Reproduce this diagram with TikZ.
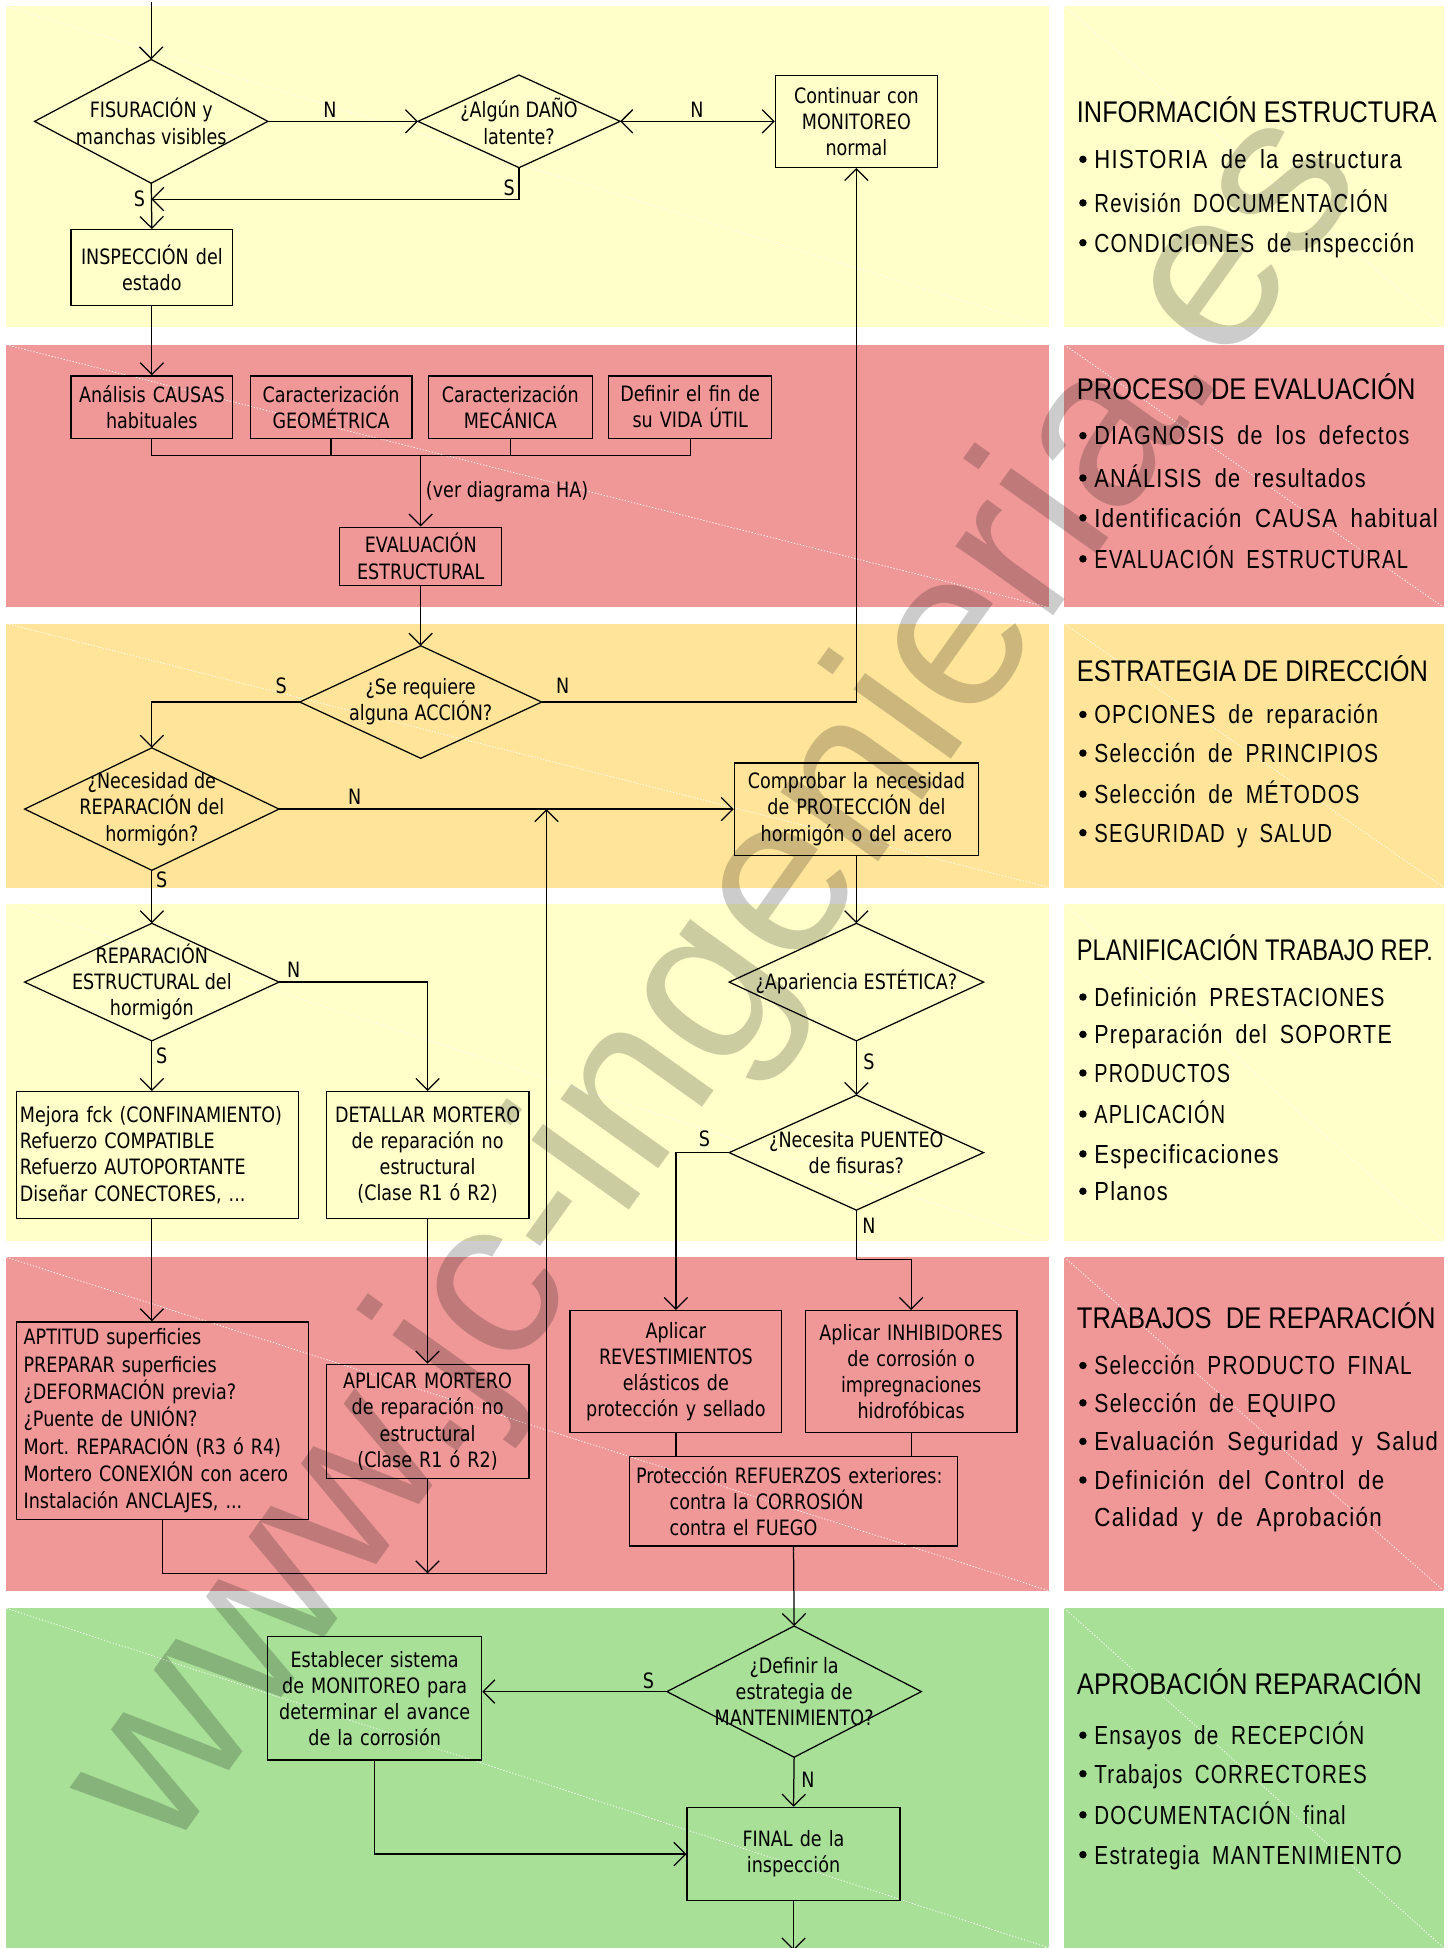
\documentclass[tikz,border=0pt]{standalone}
\usepackage{fontspec}
\usepackage{graphicx}
\setmainfont{Liberation Sans}
\newfontfamily\cadfont[FakeStretch=0.83]{DejaVu Sans}
\newfontfamily\itemfont[LetterSpace=6,WordSpace=1.8]{Liberation Sans}
\newfontfamily\headfont{Liberation Sans}
\newfontfamily\wmfont{Liberation Sans}
\usetikzlibrary{arrows.meta,calc}
\definecolor{bandY}{RGB}{255,255,202}
\definecolor{bandP}{RGB}{240,152,152}
\definecolor{bandO}{RGB}{255,228,154}
\definecolor{bandG}{RGB}{168,224,152}
\frenchspacing
\newcommand\cadsize{\cadfont\fontsize{17}{21}\selectfont}
\newcommand\cadsizeB{\cadfont\fontsize{17}{22}\selectfont}
\newcommand\headsize{\headfont\fontsize{24}{28}\selectfont}
\newcommand\itemsize{\itemfont\fontsize{21}{25}\selectfont}
\newcommand\fitw[2]{\resizebox{#1pt}{\height}{#2}}
\tikzset{
 box/.style={draw, line width=1pt, inner xsep=2pt, inner ysep=0pt, align=center, font=\cadsize},
 lbox/.style={draw, line width=1pt, inner xsep=6pt, inner ysep=0pt, align=left, font=\cadsize},
 dia/.style={inner sep=0pt, align=center, font=\cadsize},
 lab/.style={inner sep=0pt, font=\cadsize},
 conn/.style={line width=1pt},
 arr/.style={line width=1pt, -{Straight Barb[length=9.4pt,width=18.8pt]}},
 darr/.style={line width=1pt, {Straight Barb[length=9.4pt,width=18.8pt]}-{Straight Barb[length=9.4pt,width=18.8pt]}},
 head/.style={anchor=base west, inner sep=0pt, font=\headsize},
 item/.style={anchor=base west, inner sep=0pt, font=\itemsize},
 bul/.style={circle, fill=black, draw=none, inner sep=0pt, minimum size=6pt},
 diag/.style={white, line width=0.6pt, dash pattern=on 1pt off 1.5pt},
}
\begin{document}
\begin{tikzpicture}[x=1pt,y=-1pt]
\useasboundingbox (0,0) rectangle (1165,1565);
% ---------- bands ----------
\fill[bandY] (5,5) rectangle (843,263);
\fill[bandP] (5,277) rectangle (843,488);
\fill[bandO] (5,501) rectangle (843,713);
\fill[bandY] (5,726) rectangle (843,997);
\fill[bandP] (5,1010) rectangle (843,1278);
\fill[bandG] (5,1292) rectangle (843,1565);
\fill[bandY] (855,5) rectangle (1160,263);
\fill[bandP] (855,277) rectangle (1160,488);
\fill[bandO] (855,501) rectangle (1160,713);
\fill[bandY] (855,726) rectangle (1160,997);
\fill[bandP] (855,1010) rectangle (1160,1278);
\fill[bandG] (855,1292) rectangle (1160,1565);
\draw[diag] (5,5) -- (843,263);
\draw[diag] (5,277) -- (843,488);
\draw[diag] (5,501) -- (843,713);
\draw[diag] (5,726) -- (843,997);
\draw[diag] (5,1010) -- (843,1278);
\draw[diag] (5,1292) -- (843,1565);
\draw[diag] (855,5) -- (1160,263);
\draw[diag] (855,277) -- (1160,488);
\draw[diag] (855,501) -- (1160,713);
\draw[diag] (855,726) -- (1160,997);
\draw[diag] (855,1010) -- (1160,1278);
\draw[diag] (855,1292) -- (1160,1565);

% ---------- nodes ----------
\node[dia, minimum width=187pt, minimum height=99pt] (d1) at (121.5,97.5) {FISURACIÓN y\\manchas visibles};
\node[dia, minimum width=162pt, minimum height=74pt] (d2) at (417,97.5) {¿Algún DAÑO\\latente?};
\node[box, text width=126pt, minimum height=74pt] (cont) at (688,97.5) {Continuar con\\MONITOREO\\normal};
\node[box, text width=126pt, minimum height=61pt] (insp) at (122,215) {INSPECCIÓN del\\estado};

\node[box, text width=126pt, minimum height=50pt] (an) at (122,327) {Análisis CAUSAS\\habituales};
\node[box, text width=126pt, minimum height=50pt] (geo) at (266,327) {Caracterización\\GEOMÉTRICA};
\node[box, text width=128pt, minimum height=50pt] (mec) at (410,327) {Caracterización\\MECÁNICA};
\node[box, text width=127pt, minimum height=50pt] (vida) at (554.5,327) {Definir el fin de\\su VIDA ÚTIL};
\node[box, text width=126pt, minimum height=47pt] (eval) at (338,447) {EVALUACIÓN\\ESTRUCTURAL};

\node[dia, minimum width=194pt, minimum height=90pt] (d3) at (338,564) {¿Se requiere\\alguna ACCIÓN?};
\node[dia, minimum width=204pt, minimum height=98pt] (d4) at (122,650) {¿Necesidad de\\REPARACIÓN del\\hormigón?};
\node[box, text width=192pt, minimum height=74pt] (comp) at (688,650) {Comprobar la necesidad\\de PROTECCIÓN del\\hormigón o del acero};

\node[dia, minimum width=204pt, minimum height=94pt] (d5) at (122,789) {REPARACIÓN\\ESTRUCTURAL del\\hormigón};
\node[dia, minimum width=204pt, minimum height=94pt] (d6) at (688,789) {¿Apariencia ESTÉTICA?};
\node[dia, minimum width=204pt, minimum height=92pt] (d7) at (688,926) {¿Necesita PUENTEO\\de fisuras?};
\node[lbox, inner xsep=3pt, text width=221pt, minimum height=102pt] (mej) at (126.5,928) {Mejora fck (CONFINAMIENTO)\\Refuerzo COMPATIBLE\\Refuerzo AUTOPORTANTE\\Diseñar CONECTORES, ...};
\node[box, text width=159pt, minimum height=102pt] (det) at (343.5,928) {DETALLAR MORTERO\\de reparación no\\estructural\\(Clase R1 ó R2)};

\node[lbox, font=\cadsizeB, text width=223pt, minimum height=159pt] (apt) at (130.5,1141.5) {APTITUD superficies\\PREPARAR superficies\\¿DEFORMACIÓN previa?\\¿Puente de UNIÓN?\\Mort. REPARACIÓN (R3 ó R4)\\Mortero CONEXIÓN con acero\\Instalación ANCLAJES, ...};
\node[box, text width=159pt, minimum height=92pt] (apl) at (343.5,1142) {APLICAR MORTERO\\de reparación no\\estructural\\(Clase R1 ó R2)};
\node[box, text width=166pt, minimum height=98pt] (rev) at (543,1102) {Aplicar\\REVESTIMIENTOS\\elásticos de\\protección y sellado};
\node[box, text width=166pt, minimum height=98pt] (inh) at (732,1102) {Aplicar INHIBIDORES\\de corrosión o\\impregnaciones\\hidrofóbicas};
\node[lbox, inner xsep=5pt, text width=253pt, minimum height=72pt] (prot) at (637.5,1206) {Protección REFUERZOS exteriores:\\\hspace*{27pt}contra la CORROSIÓN\\\hspace*{27pt}contra el FUEGO};

\node[dia, minimum width=204pt, minimum height=105pt] (d8) at (638,1359) {¿Definir la\\estrategia de\\MANTENIMIENTO?};
\node[box, text width=168pt, minimum height=99pt] (est) at (301,1364.5) {Establecer sistema\\de MONITOREO para\\determinar el avance\\de la corrosión};
\node[box, text width=167pt, minimum height=75pt] (fin) at (637.5,1489.5) {FINAL de la\\inspección};

% diamonds outlines
\foreach \d in {d1,d2,d3,d4,d5,d6,d7,d8}{
  \draw[conn] (\d.north) -- (\d.east) -- (\d.south) -- (\d.west) -- cycle;
}

% ---------- coordinates ----------
\coordinate (top) at (121.5,2);
\coordinate (j1) at (121.5,160);
\coordinate (busL) at (122,366);
\coordinate (busR) at (554.5,366);
\coordinate (busM) at (338,366);
\coordinate (upt) at (439,650);
\coordinate (b1) at (130.5,1264);
\coordinate (b2) at (439,1264);
\coordinate (k1) at (688,1012);
\coordinate (bot) at (637.5,1567);

% ---------- connectors ----------
\draw[arr] (top) -- (d1.north);
\draw[arr] (d1.east) -- (d2.west);
\draw[darr] (d2.east) -- (cont.west);
\draw[arr] (d2.south) |- (j1);
\draw[arr] (d1.south) -- (insp.north);
\draw[arr] (insp.south) -- (an.north);
\draw[conn] (an.south) -- (busL) -- (busR) -- (vida.south);
\draw[conn] (geo.south) -- (geo.south |- busL);
\draw[conn] (mec.south) -- (mec.south |- busL);
\draw[arr] (busM) -- (eval.north);
\draw[arr] (eval.south) -- (d3.north);
\draw[arr] (d3.east) -| (cont.south);
\draw[arr] (d3.west) -| (d4.north);
\draw[arr] (d4.east) -- (comp.west);
\draw[arr] (d4.south) -- (d5.north);
\draw[arr] (comp.south) -- (d6.north);
\draw[arr] (d5.east) -| (det.north);
\draw[arr] (d5.south) -- (d5.south |- mej.north);
\draw[arr] (d6.south) -- (d7.north);
\draw[arr] (d7.west) -| (rev.north);
\draw[arr] (d7.south) -- (k1) -| (inh.north);
\draw[arr] (d5.south |- mej.south) -- (d5.south |- apt.north);
\draw[arr] (det.south) -- (apl.north);
\draw[arr] (apt.south) -- (b1) -- (b2) -- (upt);
\draw[arr] (apl.south) -- (apl.south |- b1);
\draw[conn] (rev.south) -- (rev.south |- prot.north);
\draw[conn] (inh.south) -- (inh.south |- prot.north);
\draw[arr] (prot.south) -- (d8.north);
\draw[arr] (d8.west) -- (d8.west -| est.east);
\draw[arr] (d8.south) -- (fin.north);
\draw[arr] (est.south) |- (fin.west);
\draw[arr] (fin.south) -- (bot);

% ---------- connector labels ----------
\node[lab] (n1) at (265,88) {N};
\node[lab] (n2) at (560,88) {N};
\node[lab] (s1) at (409,151) {S};
\node[lab] (s2) at (112,160) {S};
\node[lab, anchor=west] (ha) at (342,395) {(ver diagrama HA)};
\node[lab] (s3) at (226,551) {S};
\node[lab] (n3) at (452,551) {N};
\node[lab] (n4) at (285,640) {N};
\node[lab] (s4) at (130,707) {S};
\node[lab] (n5) at (236,779) {N};
\node[lab] (s5) at (130,848) {S};
\node[lab] (s6) at (698,853) {S};
\node[lab] (s7) at (566,915) {S};
\node[lab] (n7) at (698,985) {N};
\node[lab] (s8) at (521,1350) {S};
\node[lab] (n8) at (649,1430) {N};

% ---------- right panels ----------
% panel 1
\node[head] (h1) at (865,98.6) {\fitw{289}{INFORMACIÓN ESTRUCTURA}};
\node[bul] (b11) at (870,128) {}; \node[item] (i11) at (879,135.5) {\fitw{247}{HISTORIA de la estructura}};
\node[bul] (b12) at (870,163) {}; \node[item] (i12) at (879,170.5) {\fitw{236}{Revisión DOCUMENTACIÓN}};
\node[bul] (b13) at (870,195) {}; \node[item] (i13) at (879,202.5) {\fitw{257}{CONDICIONES de inspección}};
% panel 2
\node[head] (h2) at (865,320.6) {\fitw{272}{PROCESO DE EVALUACIÓN}};
\node[bul] (b21) at (870,350) {}; \node[item] (i21) at (879,357.5) {\fitw{253}{DIAGNOSIS de los defectos}};
\node[bul] (b22) at (870,384) {}; \node[item] (i22) at (879,391.5) {\fitw{218}{ANÁLISIS de resultados}};
\node[bul] (b23) at (870,416) {}; \node[item] (i23) at (879,423.5) {\fitw{276}{Identificación CAUSA habitual}};
\node[bul] (b24) at (870,449) {}; \node[item] (i24) at (879,456.5) {\fitw{252}{EVALUACIÓN ESTRUCTURAL}};
% panel 3
\node[head] (h3) at (865,547.6) {\fitw{282}{ESTRATEGIA DE DIRECCIÓN}};
\node[bul] (b31) at (870,574) {}; \node[item] (i31) at (879,581.5) {\fitw{228}{OPCIONES de reparación}};
\node[bul] (b32) at (870,605) {}; \node[item] (i32) at (879,612.5) {\fitw{228}{Selección de PRINCIPIOS}};
\node[bul] (b33) at (870,638) {}; \node[item] (i33) at (879,645.5) {\fitw{213}{Selección de MÉTODOS}};
\node[bul] (b34) at (870,669) {}; \node[item] (i34) at (879,676.5) {\fitw{191}{SEGURIDAD y SALUD}};
% panel 4
\node[head] (h4) at (865,771.6) {\fitw{286}{PLANIFICACIÓN TRABAJO REP.}};
\node[bul] (b41) at (870,801) {}; \node[item] (i41) at (879,808.5) {\fitw{233}{Definición PRESTACIONES}};
\node[bul] (b42) at (870,831) {}; \node[item] (i42) at (879,838.5) {\fitw{239}{Preparación del SOPORTE}};
\node[bul] (b43) at (870,862) {}; \node[item] (i43) at (879,869.5) {\fitw{109}{PRODUCTOS}};
\node[bul] (b44) at (870,895) {}; \node[item] (i44) at (879,902.5) {\fitw{105}{APLICACIÓN}};
\node[bul] (b45) at (870,927) {}; \node[item] (i45) at (879,934.5) {\fitw{148}{Especificaciones}};
\node[bul] (b46) at (870,957) {}; \node[item] (i46) at (879,964.5) {\fitw{59}{Planos}};
% panel 5
\node[head] (h5) at (865,1067.6) {\fitw{288}{TRABAJOS\ \ DE REPARACIÓN}};
\node[bul] (b51) at (870,1097) {}; \node[item] (i51) at (879,1104.5) {\fitw{255}{Selección PRODUCTO FINAL}};
\node[bul] (b52) at (870,1127) {}; \node[item] (i52) at (879,1134.5) {\fitw{194}{Selección de EQUIPO}};
\node[bul] (b53) at (870,1158) {}; \node[item] (i53) at (879,1165.5) {\fitw{276}{Evaluación Seguridad y Salud}};
\node[bul] (b54) at (870,1189) {}; \node[item] (i54) at (879,1196.5) {\fitw{233}{Definición del Control de}};
\node[item] (i55) at (879,1226.5) {\fitw{231}{Calidad y de Aprobación}};
% panel 6
\node[head] (h6) at (865,1361.6) {\fitw{277}{APROBACIÓN REPARACIÓN}};
\node[bul] (b61) at (870,1394) {}; \node[item] (i61) at (879,1401.5) {\fitw{217}{Ensayos de RECEPCIÓN}};
\node[bul] (b62) at (870,1425) {}; \node[item] (i62) at (879,1432.5) {\fitw{219}{Trabajos CORRECTORES}};
\node[bul] (b63) at (870,1458) {}; \node[item] (i63) at (879,1465.5) {\fitw{202}{DOCUMENTACIÓN final}};
\node[bul] (b64) at (870,1490) {}; \node[item] (i64) at (879,1497.5) {\fitw{247}{Estrategia MANTENIMIENTO}};

% ---------- watermark ----------
\node[rotate=54.5, inner sep=0pt, text=black, text opacity=0.2, font=\wmfont\fontsize{182}{182}\selectfont] (wm) at (578,790) {www.jc-ingenieria.es};
\end{tikzpicture}
\end{document}
